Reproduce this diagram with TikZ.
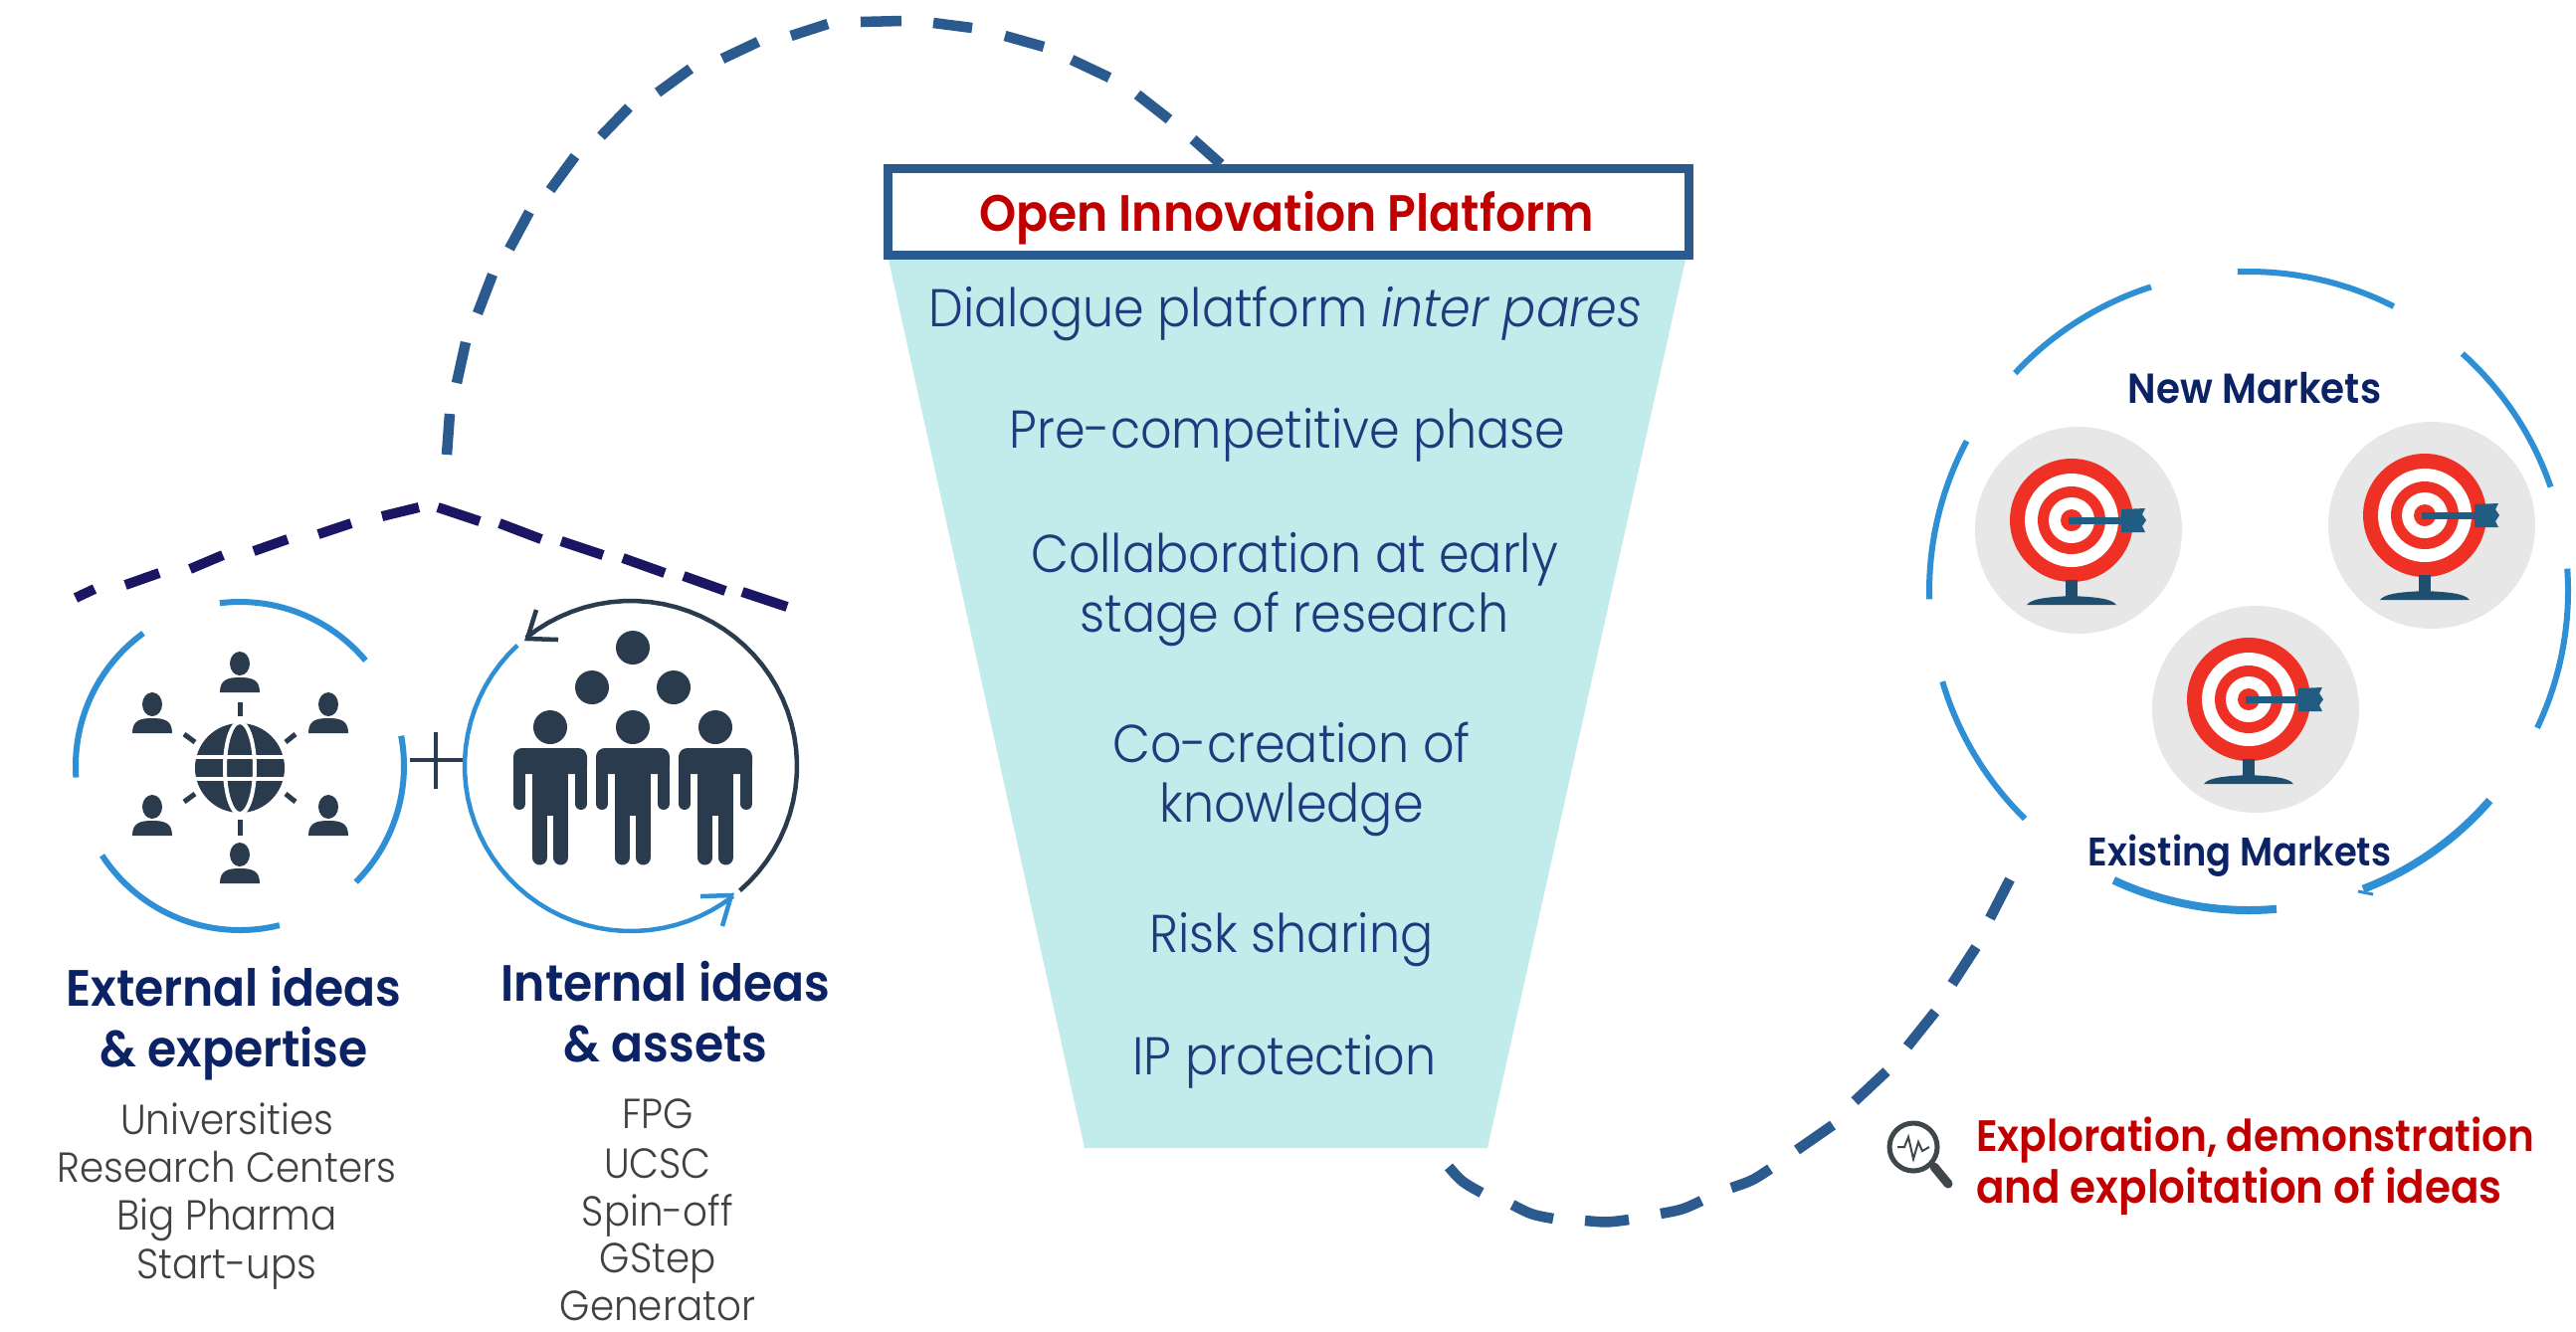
\documentclass[tikz,border=0pt]{standalone}
\usepackage{fontspec}
\setmainfont{Poppins}
\newfontfamily\lightf{Poppins Light}[ItalicFont={Poppins Light Italic},FakeStretch=0.92]
\newfontfamily\semif{Poppins SemiBold}[FakeStretch=0.92]
\newcommand\fs[1]{\fontsize{#1}{#1}\selectfont}
\definecolor{dashblue}{HTML}{2B5A8F}
\definecolor{roofnavy}{HTML}{1B1663}
\definecolor{arcblue}{HTML}{2E8FD5}
\definecolor{icondark}{HTML}{2A3B4E}
\definecolor{lensgray}{HTML}{3F474B}
\definecolor{funnelfill}{HTML}{C2EBEB}
\definecolor{bodyblue}{HTML}{1F3A7D}
\definecolor{headnavy}{HTML}{0B2265}
\definecolor{listgray}{HTML}{404040}
\definecolor{redtxt}{HTML}{C00000}
\definecolor{tgtred}{HTML}{EE3124}
\definecolor{tgtgray}{HTML}{E7E7E7}
\definecolor{tgtteal}{HTML}{1F4E6E}
\definecolor{dartblue}{HTML}{215C82}
\tikzset{
  x=0.01cm,y=-0.01cm,
  bigdash/.style={draw=dashblue,line width=0.105cm},
  roofdash/.style={draw=roofnavy,line width=0.1cm},
  ring/.style={draw=arcblue,line width=0.06cm},
  ringthick/.style={draw=arcblue,line width=0.08cm},
  ringthin/.style={draw=arcblue,line width=0.045cm},
  ringdark/.style={draw=icondark,line width=0.045cm},
  txt/.style={inner sep=0pt,outer sep=0pt,anchor=base,align=center},
  funneltxt/.style={txt,text=bodyblue,font=\lightf\fs{15.2pt}},
  headtxt/.style={txt,text=headnavy,font=\semif\fs{14.6pt}},
  listtxt/.style={txt,text=listgray,font=\lightf\fs{12pt}},
  markettxt/.style={txt,text=headnavy,font=\semif\fs{11.4pt}},
  redhead/.style={txt,text=redtxt,font=\semif\fs{14.6pt}},
  redside/.style={inner sep=0pt,outer sep=0pt,anchor=base west,text=redtxt,font=\semif\fs{13pt}},
}
\newcommand\arcp[7][]{\draw[#1] plot[domain=#6:#7,samples=40,variable=\t] ({#2+#4*cos(\t)},{#3-#5*sin(\t)});}
\newcommand\person[2]{%
  \begin{scope}[shift={(#1,#2)}]
    \fill[icondark] (0,0) ellipse[x radius=10,y radius=12];
    \fill[icondark] (-20,29) .. controls (-20,16) and (-12,14) .. (0,14) .. controls (12,14) and (20,16) .. (20,29) -- cycle;
  \end{scope}}
\newcommand\man[1]{%
  \begin{scope}[shift={(#1,0)}]
    \fill[icondark,rounded corners=2.5pt] (-37,752) rectangle (37,778);
    \fill[icondark] (-18,760) rectangle (18,820);
    \draw[icondark,line width=0.12cm,line cap=round] (-31,762) -- (-31,808) (31,762) -- (31,808);
    \draw[icondark,line width=0.15cm,line cap=round] (-10.5,800) -- (-10.5,862) (10.5,800) -- (10.5,862);
  \end{scope}}
\newcommand\targetat[2]{%
  \begin{scope}[shift={(#1,#2)}]
    \fill[tgtgray] (7,10) circle[radius=104];
    \fill[tgtred] (0,0) circle[radius=62];
    \fill[white] (0,0) circle[radius=47];
    \fill[tgtred] (0,0) circle[radius=34];
    \fill[white] (0,0) circle[radius=23];
    \fill[tgtred] (0,0) circle[radius=11];
    \fill[tgtteal] (-6,60) rectangle (6,80);
    \fill[tgtteal] (-45,85) .. controls (-40,78) and (-20,77) .. (0,76) .. controls (20,77) and (40,78) .. (45,85) -- cycle;
    \draw[dartblue,line width=0.07cm] (-3,0) -- (55,0);
    \fill[dartblue] (50,-11) -- (74,-12) -- (71,-6) -- (75,0) -- (71,6) -- (74,12) -- (50,12) -- cycle;
  \end{scope}}
\begin{document}
\begin{tikzpicture}
\useasboundingbox (0,0) rectangle (2589,1338);
\fill[white] (0,0) rectangle (2589,1338);

% top dashed arc
\foreach \a/\b/\c/\d in {449/457/452/416,459/385/468/344,480/315/495/276,512/250/532/213,553/191/578/157,604/137/632/108,661/93/694/69,726/59/762/42,795/36/832/24,865/22/906/21,938/23/977/28,1010/36/1049/47,1077/60/1115/78,1143/95/1175/120,1199/140/1227/165}
  {\draw[bigdash] (\a,\b) -- (\c,\d);}

% funnel
\fill[funnelfill] (893,261) -- (1694,261) -- (1495,1154) -- (1090,1154) -- cycle;
\node[draw=dashblue,line width=0.09cm,fill=white,minimum width=8.05cm,minimum height=0.86cm,inner sep=0pt,outer sep=0pt] (oipbox) at (1295,213) {};
\node[redhead] (oip) at (1293,232) {Open Innovation Platform};
\node[funneltxt] (f1) at (1292,328) {Dialogue platform \textit{inter pares}};
\node[funneltxt] (f2) at (1294,450) {Pre-competitive phase};
\node[funneltxt] (f3) at (1301,575) {Collaboration at early};
\node[funneltxt] (f4) at (1301,635) {stage of research};
\node[funneltxt] (f5) at (1298,766) {Co-creation of};
\node[funneltxt] (f6) at (1298,826) {knowledge};
\node[funneltxt] (f7) at (1298,957) {Risk sharing};
\node[funneltxt] (f8) at (1291,1080) {IP protection};

% bottom dashed curve
\draw[bigdash] (1456,1173) .. controls (1469,1188) .. (1489,1199);
\draw[bigdash] (1520,1211) .. controls (1539,1221) .. (1561,1225);
\draw[bigdash] (1593,1227) .. controls (1615,1229) .. (1637,1226);
\draw[bigdash] (1669,1220) .. controls (1691,1216) .. (1710,1207);
\draw[bigdash] (1740,1194) .. controls (1761,1187) .. (1779,1175);
\foreach \a/\b/\c/\d in {1806/1156/1842/1131,1864/1107/1896/1077,1917/1052/1945/1017,1962/989/1986/952,2000/923/2020/884}
  {\draw[bigdash] (\a,\b) -- (\c,\d);}

% roof
\foreach \a/\b/\c/\d in {76/601/95/592,126/588/160/576,191/572/224/558,255/554/289/542,320/537/353/526,384/519/421/510,440/510/482/524,502/526/544/542,564/544/606/558,626/561/668/576,687/579/729/594,746/595/791/610}
  {\draw[roofdash] (\a,\b) -- (\c,\d);}

% external circle
\arcp[ring]{241}{770}{165}{165}{97}{40}
\arcp[ring]{241}{770}{165}{165}{10.6}{-45}
\arcp[ring]{241}{770}{165}{165}{-76}{-147}
\arcp[ring]{241}{770}{165}{165}{184}{126}
% globe
\fill[icondark] (241,772) circle[radius=45];
\draw[white,line width=0.04cm] (241,772) ellipse[x radius=15,y radius=46];
\draw[white,line width=0.04cm] (190,761) -- (292,761) (190,783) -- (292,783);
\foreach \a/\b/\c/\d in {241/706/241/720,241/824/241/840,185/738/196/746,297/738/287/746,185/806/196/798,297/806/287/798}
  {\draw[icondark,line width=0.05cm] (\a,\b) -- (\c,\d);}
\person{241}{667}
\person{241}{859}
\person{153}{708}
\person{330}{708}
\person{153}{811}
\person{330}{811}

% plus
\draw[icondark,line width=0.045cm] (412,764) -- (466,764) (438,736) -- (438,793);

% internal circle
\arcp[ringthin]{634}{770}{167}{166}{133}{308}
\draw[ringthin] (704,901) -- (735,900) -- (726,931);
\arcp[ringdark]{634}{770}{167}{166}{-49}{129}
\draw[ringdark] (539,613) -- (530,642) -- (561,643);
\fill[icondark] (636,651) circle[radius=17];
\fill[icondark] (595,691) circle[radius=17];
\fill[icondark] (677,691) circle[radius=17];
\foreach \hx in {553,636,719}{\fill[icondark] (\hx,731) circle[radius=17];\man{\hx}}

% left texts
\node[headtxt] (ext1) at (235,1011) {External ideas};
\node[headtxt] (ext2) at (235,1072) {\& expertise};
\node[headtxt] (int1) at (669,1006) {Internal ideas};
\node[headtxt] (int2) at (669,1067) {\& assets};
\node[listtxt] (l1) at (228,1140) {Universities};
\node[listtxt] (l2) at (228,1188) {Research Centers};
\node[listtxt] (l3) at (228,1236) {Big Pharma};
\node[listtxt] (l4) at (228,1285) {Start-ups};
\node[listtxt] (r1) at (661,1134) {FPG};
\node[listtxt] (r2) at (661,1184) {UCSC};
\node[listtxt] (r3) at (661,1232) {Spin-off};
\node[listtxt] (r4) at (661,1279) {GStep};
\node[listtxt] (r5) at (661,1327) {Generator};

% right circle
\arcp[ring]{2260}{594}{321}{321}{137}{107.8}
\arcp[ring]{2260}{594}{321}{321}{92}{63}
\arcp[ring]{2260}{594}{321}{321}{48}{19}
\arcp[ring]{2260}{594}{321}{321}{4}{-25.4}
\arcp[ringthick]{2260}{594}{321}{321}{-41}{-69}
\draw[ring,line width=0.03cm] (2370,896) -- (2385,899);
\arcp[ringthick]{2260}{594}{321}{321}{-85}{-115}
\arcp[ring]{2260}{594}{321}{321}{225.5}{196.5}
\arcp[ring]{2260}{594}{321}{321}{181.5}{152}
\targetat{2082}{523}
\targetat{2437}{518}
\targetat{2260}{703}
\node[markettxt,font=\semif\fs{12pt}] (nm) at (2266,405) {New Markets};
\node[markettxt] (em) at (2251,870) {Existing Markets};

% magnifier
\draw[draw=lensgray,line width=0.05cm] (1923,1153) circle[radius=24];
\draw[lensgray,line width=0.09cm,line cap=round] (1944,1173) -- (1958,1190);
\draw[lensgray,line width=0.02cm] (1907,1153) -- (1914,1153) -- (1918,1143) -- (1923,1165) -- (1928,1148) -- (1932,1157) -- (1939,1153);
\node[redside,font=\semif\fs{12.55pt}] (ex1) at (1986,1157) {Exploration, demonstration};
\node[redside] (ex2) at (1986,1209) {and exploitation of ideas};
\end{tikzpicture}
\end{document}
